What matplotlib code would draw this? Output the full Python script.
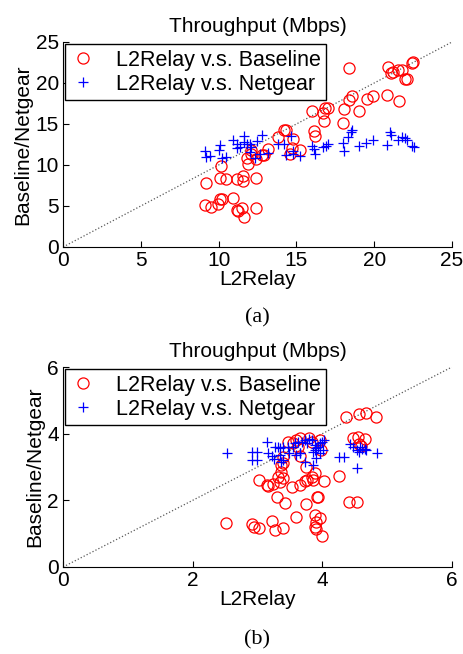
import matplotlib
matplotlib.use("Agg")
import matplotlib.pyplot as plt

plt.rcParams['font.family'] = ['Liberation Sans', 'DejaVu Sans']

# (a) throughput in Mbps: L2Relay (x) vs Baseline / Netgear (y)
a_base_x = [9.2, 9.13, 9.5, 9.95, 10.1, 10.2, 10.9, 10.1, 10.5, 10.15, 11.2, 11.55, 11.55, 12.4,
            11.2, 11.27, 11.5, 11.65, 12.4, 11.87, 11.8, 12.06, 12.4, 12.1, 12.8, 12.9, 13.16,
            13.84, 14.2, 14.3, 14.8, 14.74, 14.6, 15.25, 16.0, 16.1, 16.2, 16.7, 16.77, 16.84,
            17.05, 18.0, 18.06, 18.4, 18.55, 19.0, 19.56, 19.9, 18.4, 20.8, 21.6, 20.9, 21.5,
            21.77, 21.1, 21.2, 22.4, 22.5, 22.0, 22.1]
a_base_y = [7.85, 5.1, 4.9, 5.2, 5.85, 5.85, 5.95, 8.4, 8.25, 9.9, 8.35, 8.6, 8.0, 8.45,
            4.5, 4.45, 4.7, 3.7, 4.7, 10.1, 10.9, 11.8, 10.7, 11.3, 11.2, 11.2, 11.9,
            13.45, 14.3, 14.3, 13.2, 12.1, 11.3, 11.8, 16.6, 14.1, 13.5, 16.3, 15.4, 16.9,
            17.0, 15.1, 16.8, 17.9, 18.45, 16.6, 18.05, 18.4, 21.8, 18.5, 17.8, 22.0, 21.6,
            21.6, 21.2, 21.3, 22.4, 22.6, 20.45, 20.45]
a_net_x = [9.1, 9.2, 9.45, 10.0, 10.1, 10.2, 10.45, 10.9, 11.2, 11.2, 11.4, 11.65, 11.65, 11.8,
           12.0, 12.1, 12.0, 12.35, 12.45, 12.66, 12.8, 13.2, 13.8, 14.2, 14.3, 14.65, 14.8,
           14.8, 15.25, 16.0, 16.1, 16.2, 16.7, 16.9, 17.05, 18.0, 18.06, 18.3, 18.5, 18.6,
           19.0, 19.5, 19.9, 20.8, 21.0, 21.1, 21.55, 21.77, 22.0, 22.1, 22.4, 22.56]
a_net_y = [11.7, 11.0, 11.1, 11.8, 12.4, 10.8, 11.0, 13.1, 12.6, 12.1, 12.2, 13.5, 12.85, 12.5,
           12.5, 12.2, 11.6, 10.9, 12.96, 11.4, 13.66, 11.5, 12.5, 12.5, 11.2, 13.5, 11.75,
           11.3, 11.1, 12.35, 12.0, 11.4, 12.2, 12.35, 12.56, 12.7, 11.7, 13.45, 14.0, 14.3,
           12.3, 12.7, 13.05, 12.4, 14.06, 13.66, 13.05, 13.45, 13.25, 13.05, 12.35, 12.15]

# (b)
b_base_x = [4.36, 4.56, 4.68, 4.83, 4.48, 4.55, 4.66, 4.57, 4.6, 3.47, 3.55, 3.6, 3.66, 3.63,
            3.8, 3.84, 3.96, 3.98, 3.39, 3.39, 3.66, 3.75, 3.36, 3.36, 3.31, 3.39, 3.34, 3.03,
            3.14, 3.16, 3.24, 3.53, 3.66, 3.73, 3.84, 3.85, 3.76, 3.89, 4.03, 4.26, 3.30, 3.43,
            3.75, 3.92, 3.94, 4.41, 4.54, 2.52, 2.92, 2.94, 3.03, 3.23, 3.27, 3.40, 3.6, 3.89,
            3.97, 3.9, 3.89, 3.9, 3.99]
b_base_y = [4.49, 4.59, 4.63, 4.49, 3.86, 3.91, 3.83, 3.7, 3.62, 3.76, 3.71, 3.81, 3.86, 3.61,
            3.86, 3.76, 3.8, 3.51, 3.31, 3.13, 3.33, 3.01, 3.06, 2.86, 2.71, 2.66, 2.54, 2.61,
            2.46, 2.43, 2.49, 2.41, 2.46, 2.58, 2.69, 2.61, 2.61, 2.83, 2.59, 2.73, 2.11, 1.91,
            1.89, 2.09, 2.11, 1.94, 1.96, 1.33, 1.29, 1.19, 1.16, 1.38, 1.11, 1.16, 1.51, 1.57,
            1.46, 1.36, 1.21, 1.14, 0.93]
b_net_x = [2.53, 2.92, 3.0, 2.92, 3.0, 3.14, 3.16, 3.22, 3.26, 3.27, 3.31, 3.35, 3.4, 3.35,
           3.4, 3.37, 3.47, 3.49, 3.65, 3.55, 3.58, 3.63, 3.6, 3.65, 3.68, 3.73, 3.76, 3.8,
           3.84, 3.74, 3.85, 3.91, 3.89, 3.91, 3.89, 3.86, 3.94, 3.96, 3.99, 4.03, 4.01, 3.96,
           4.25, 4.33, 4.42, 4.48, 4.53, 4.56, 4.58, 4.61, 4.66, 4.68, 4.84, 4.54]
b_net_y = [3.41, 3.46, 3.46, 3.21, 3.21, 3.76, 3.41, 3.33, 3.23, 3.59, 3.61, 3.56, 3.61, 3.36,
           3.21, 3.16, 3.61, 3.43, 3.43, 3.61, 3.71, 3.76, 3.36, 3.41, 3.76, 3.81, 3.71, 3.83,
           3.81, 3.16, 3.06, 3.26, 3.66, 3.56, 3.51, 3.46, 3.61, 3.71, 3.76, 3.81, 3.51, 3.41,
           3.29, 3.29, 3.69, 3.61, 3.51, 3.46, 3.61, 3.53, 3.53, 3.51, 3.41, 2.96]

a_ticks = [0, 5, 10, 15, 20, 25]
b_ticks = [0, 2, 4, 6]

W, H = 464, 654
fig = plt.figure(figsize=(W / 100, H / 100), dpi=100)

panels = [
    (a_base_x, a_base_y, a_net_x, a_net_y, a_ticks, 247, 205, '(a)', 318),
    (b_base_x, b_base_y, b_net_x, b_net_y, b_ticks, 567, 200, '(b)', 640),
]

for bx, by, nx, ny, ticks, bottom_px, h_px, cap, cap_y in panels:
    ax = fig.add_axes([63 / W, 1 - bottom_px / H, 389 / W, h_px / H])
    lim = ticks[-1]
    ax.plot([0, lim], [0, lim], ':', color='0.35', lw=0.9)
    ax.plot(bx, by, 'o', mfc='none', mec='red', ms=8, mew=0.9,
            label='L2Relay v.s. Baseline')
    ax.plot(nx, ny, '+', color='blue', ms=7, mew=0.9,
            label='L2Relay v.s. Netgear')
    ax.set_xlim(0, lim)
    ax.set_ylim(0, lim)
    ax.set_xticks(ticks)
    ax.set_yticks(ticks)
    ax.spines['top'].set_visible(False)
    ax.spines['right'].set_visible(False)
    ax.tick_params(direction='in', length=4, labelsize=15)
    ax.tick_params(axis='x', pad=3)
    ax.tick_params(axis='y', pad=3)
    ax.set_xlabel('L2Relay', fontsize=15, labelpad=0)
    ax.set_ylabel('Baseline/Netgear', fontsize=15, labelpad=2)
    ax.set_title('Throughput (Mbps)', fontsize=15, pad=7)
    leg = ax.legend(loc='upper left', fontsize=15.5, fancybox=False, framealpha=1,
                    edgecolor='black', borderaxespad=0.1, handlelength=1.2,
                    handletextpad=0.9, borderpad=0.25, labelspacing=0.15)
    leg.get_frame().set_linewidth(1.0)
    fig.text(257.5 / W, 1 - cap_y / H, cap, ha='center', va='center',
             fontsize=16, family='Liberation Serif')

fig.savefig('out.png', dpi=100)
